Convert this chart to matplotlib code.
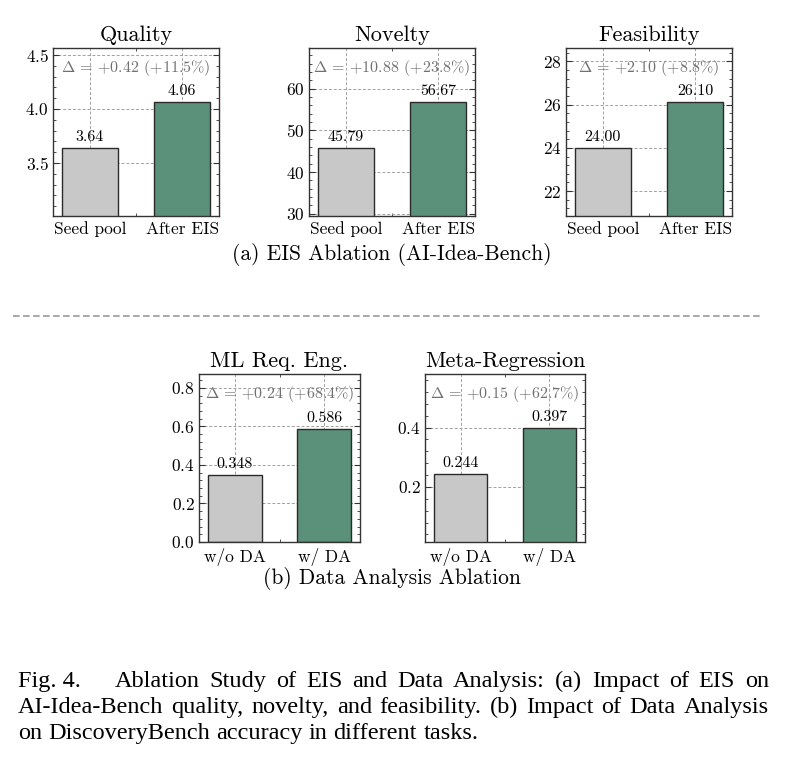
import matplotlib
matplotlib.use("Agg")
import matplotlib.pyplot as plt
from matplotlib.lines import Line2D
from matplotlib.ticker import MultipleLocator, AutoMinorLocator

plt.rcParams['font.family'] = ['cmr10', 'DejaVu Serif']
plt.rcParams['mathtext.fontset'] = 'cm'
plt.rcParams['axes.formatter.use_mathtext'] = True

# ---------------- data ----------------
top_titles = ["Quality", "Novelty", "Feasibility"]
top_labels = ["Seed pool", "After EIS"]
quality = [3.64, 4.06]
novelty = [45.79, 56.67]
feasibility = [24.00, 26.10]
top_steps = [0.5, 10, 2]

bot_titles = ["ML Req. Eng.", "Meta-Regression"]
bot_labels = ["w/o DA", "w/ DA"]
ml_req = [0.348, 0.586]
meta_reg = [0.244, 0.397]
bot_steps = [0.2, 0.2]

sub_a = "(a) EIS Ablation (AI-Idea-Bench)"
sub_b = "(b) Data Analysis Ablation"
caption_lines = [
    ["Fig. 4.", "Ablation", "Study", "of", "EIS", "and", "Data", "Analysis:", "(a)", "Impact", "of", "EIS", "on"],
    ["AI-Idea-Bench", "quality,", "novelty,", "and", "feasibility.", "(b)", "Impact", "of", "Data", "Analysis"],
    ["on", "DiscoveryBench", "accuracy", "in", "different", "tasks."],
]

GRAY = "#c8c8c8"
GREEN = "#5b917a"
W, H = 785, 764

fig = plt.figure(figsize=(W / 100, H / 100), dpi=100)


def px_axes(x0, y0, x1, y1):
    return fig.add_axes([x0 / W, 1 - y1 / H, (x1 - x0) / W, (y1 - y0) / H])


def draw_panel(ax, title, labels, vals, step, fmt, clip0=False):
    d = vals[1] - vals[0]
    lo = vals[0] - 1.5 * d
    if clip0:
        lo = max(0, lo)
    hi = vals[1] + 1.2 * d
    xs = range(len(vals))
    ax.set_axisbelow(True)
    ax.grid(True, linestyle=(0, (3, 2)), color="#a0a0a0", linewidth=0.7)
    ax.bar(xs, vals, width=0.6, color=[GRAY, GREEN], edgecolor="#2a2a2a",
           linewidth=1.0, zorder=2)
    for x, v in zip(xs, vals):
        ax.annotate(fmt.format(v), (x, v), xytext=(0, 3), textcoords="offset points",
                    ha="center", va="bottom", fontsize=11.5, zorder=4)
    pct = d / vals[0] * 100
    ax.text(0.5, 0.88, r"$\Delta$ = +" + "{:.2f}".format(d) + " (+{:.1f}%)".format(pct),
            transform=ax.transAxes, ha="center", va="center", fontsize=11.5,
            color="#707070", zorder=4)
    ax.set_xlim(-0.4, 1.4)
    ax.set_ylim(lo, hi)
    ax.set_xticks(list(xs))
    ax.set_xticklabels(labels)
    ax.yaxis.set_major_locator(MultipleLocator(step))
    ax.yaxis.set_minor_locator(AutoMinorLocator(5))
    ax.xaxis.set_minor_locator(MultipleLocator(0.5))
    ax.tick_params(which="both", direction="in", top=True, right=True, labelsize=12.5,
                   color="#333333")
    ax.tick_params(which="major", length=4, width=0.8)
    ax.tick_params(which="minor", length=2.2, width=0.6)
    ax.tick_params(axis="x", which="major", length=0, pad=4)
    ax.tick_params(axis="y", pad=3)
    for s in ax.spines.values():
        s.set_color("#333333")
        s.set_linewidth(1.0)
    ax.set_title(title, fontsize=16, pad=5)


top_boxes = [(53, 48, 219, 216), (309, 48, 475, 216), (566, 48, 732, 216)]
top_vals = [quality, novelty, feasibility]
for box, t, v, st in zip(top_boxes, top_titles, top_vals, top_steps):
    draw_panel(px_axes(*box), t, top_labels, v, st, "{:.2f}")

bot_boxes = [(199, 374, 360, 542), (425, 374, 585, 542)]
bot_vals = [ml_req, meta_reg]
for box, t, v, st in zip(bot_boxes, bot_titles, bot_vals, bot_steps):
    draw_panel(px_axes(*box), t, bot_labels, v, st, "{:.3f}", clip0=True)

fig.text(392 / W, 1 - 255 / H, sub_a, ha="center", va="center", fontsize=15.5)
fig.text(392 / W, 1 - 578 / H, sub_b, ha="center", va="center", fontsize=15.5)

fig.add_artist(Line2D([13 / W, 763 / W], [1 - 316 / H, 1 - 316 / H], transform=fig.transFigure,
                      color="#9a9a9a", linewidth=1.2, linestyle=(0, (4, 2))))

# ---------------- caption (justified) ----------------
cap_font = dict(family="Liberation Serif", fontsize=17.5)
renderer = fig.canvas.get_renderer()
left, right = 18, 769
baselines = [687, 713, 739]


def width_px(s):
    t = fig.text(0, 0, s, **cap_font)
    w = t.get_window_extent(renderer).width
    t.remove()
    return w


space_w = width_px("a a") - width_px("aa")
for i, (words, yb) in enumerate(zip(caption_lines, baselines)):
    widths = [width_px(w) for w in words]
    extra = [0] * len(words)
    if i == 0:
        extra[0] = 4.0 * space_w
    last = i == len(caption_lines) - 1
    if last:
        gap = space_w
    else:
        gap = (right - left - sum(widths) - sum(extra)) / (len(words) - 1)
    x = left
    for w, wd, ex in zip(words, widths, extra):
        fig.text(x / W, 1 - yb / H, w, ha="left", va="baseline", **cap_font)
        x += wd + gap + ex

fig.savefig("out.png", dpi=100)
